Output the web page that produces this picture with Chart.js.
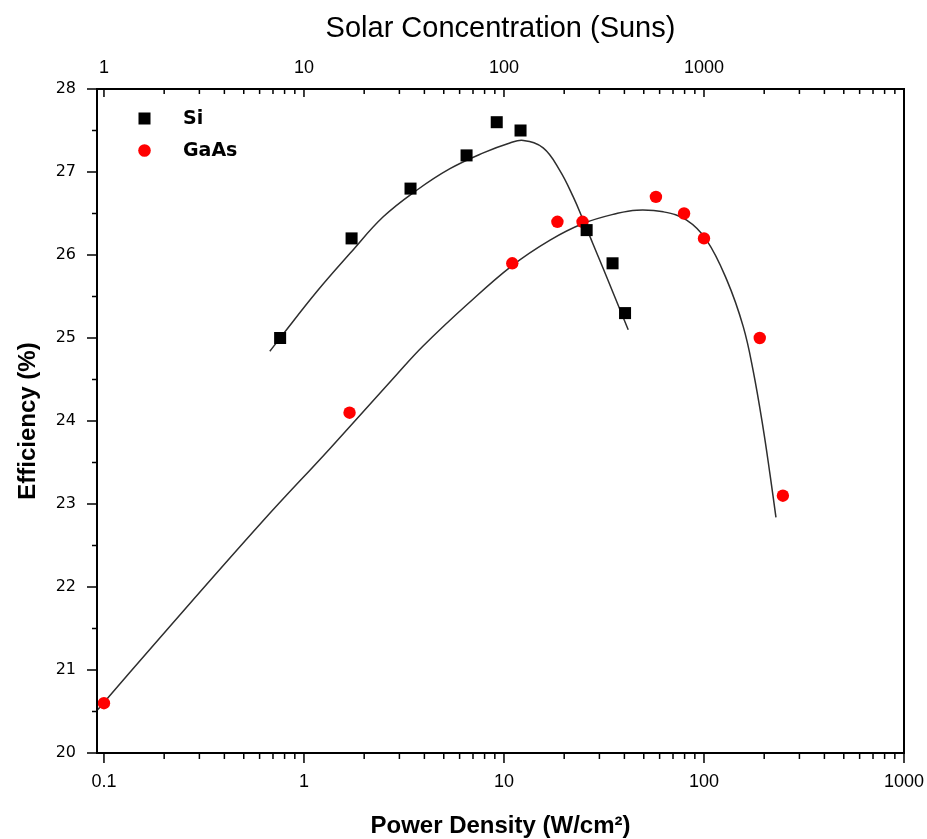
<!DOCTYPE html>
<html>
<head>
<meta charset="utf-8">
<title>Efficiency vs power density</title>
<script src="https://cdn.jsdelivr.net/npm/chart.js@4.4.1/dist/chart.umd.min.js"></script>
<style>
  html, body { margin: 0; padding: 0; background: #fff; }
  #wrap { width: 927px; height: 839px; }
</style>
</head>
<body>
<div id="wrap"><canvas id="chart" width="927" height="839"></canvas></div>
<script>
// measured cells (power density in W/cm2, efficiency in %)
var siPower = [0.76, 1.73, 3.41, 6.5, 9.2, 12.1, 25.9, 34.9, 40.3];
var siEff = [25.0, 26.2, 26.8, 27.2, 27.6, 27.5, 26.3, 25.9, 25.3];
var gaasPower = [0.1, 1.69, 11.0, 18.5, 24.7, 57.5, 79.5, 100, 190, 248];
var gaasEff = [20.6, 24.1, 25.9, 26.4, 26.4, 26.7, 26.5, 26.2, 25.0, 23.1];

// fitted curves
var siFitPower = [0.675, 0.76, 1.16, 1.70, 2.49, 3.66, 5.37, 7.88, 10.7, 12.5, 15.7, 19.0, 22.2, 24.9, 27.9, 31.3, 35.2, 41.8];
var siFitEff = [24.84, 25.00, 25.56, 26.02, 26.46, 26.78, 27.04, 27.23, 27.35, 27.38, 27.29, 27.02, 26.70, 26.42, 26.13, 25.84, 25.54, 25.10];
var gaasFitPower = [0.093, 0.194, 0.615, 1.35, 2.91, 3.93, 6.52, 10.95, 17.0, 24.9, 36.6, 46.1, 62.6, 81.9, 103, 130, 157, 176, 198, 214, 229];
var gaasFitEff = [20.52, 21.41, 22.78, 23.67, 24.56, 24.90, 25.40, 25.87, 26.18, 26.38, 26.50, 26.54, 26.52, 26.42, 26.18, 25.70, 25.14, 24.61, 23.90, 23.35, 22.84];

// axes
var powerTicks = [0.1, 1, 10, 100, 1000];
var sunTicks = [1, 10, 100, 1000];
var effTicks = [20, 21, 22, 23, 24, 25, 26, 27, 28];
var powerMin = 0.0923, powerMax = 1000;
var sunsPerWcm2 = 10;

function pairs(xs, ys) {
  return xs.map(function (x, i) { return { x: x, y: ys[i] }; });
}

function fixedTicks(values) {
  return function (scale) {
    scale.ticks = values.map(function (v) { return { value: v }; });
  };
}

// keep the end labels from shrinking the plot box
function noSidePadding(height) {
  return function (s) {
    s.height = height;
    s.paddingLeft = 0;
    s.paddingRight = 0;
  };
}

// decade + 2..9 positions inside a log scale
function logMarks(scale) {
  var out = [];
  var lo = Math.floor(Math.log10(scale.min)), hi = Math.ceil(Math.log10(scale.max));
  for (var e = lo; e <= hi; e++) {
    for (var m = 1; m <= 9; m++) {
      var v = m * Math.pow(10, e);
      if (v >= scale.min * 0.999 && v <= scale.max * 1.001) out.push({ v: v, major: m === 1 });
    }
  }
  return out;
}

var SANS = '"Liberation Sans", Arial, sans-serif';

// box frame, tick marks and the inset legend
var frameAndLegend = {
  id: 'frameAndLegend',
  afterDraw: function (chart) {
    var ctx = chart.ctx, a = chart.chartArea;
    var xs = chart.scales.x, xt = chart.scales.x2, ys = chart.scales.y;
    ctx.save();
    ctx.strokeStyle = '#000';
    ctx.lineWidth = 1.5;
    ctx.beginPath();
    for (var v = effTicks[0]; v <= effTicks[effTicks.length - 1]; v += 0.5) {
      var py = ys.getPixelForValue(v);
      var len = (v % 1 === 0) ? 10 : 5;
      ctx.moveTo(a.left - len, py);
      ctx.lineTo(a.left, py);
    }
    logMarks(xs).forEach(function (t) {
      var px = xs.getPixelForValue(t.v);
      ctx.moveTo(px, a.bottom);
      ctx.lineTo(px, a.bottom + (t.major ? 10 : 6));
    });
    logMarks(xt).forEach(function (t) {
      var px = xt.getPixelForValue(t.v);
      ctx.moveTo(px, a.top);
      ctx.lineTo(px, a.top + (t.major ? 8 : 5));
    });
    ctx.stroke();

    ctx.lineWidth = 2;
    ctx.strokeRect(a.left, a.top, a.right - a.left, a.bottom - a.top);

    // legend
    var items = chart.data.datasets.filter(function (d) { return d.inLegend; });
    var rowY = [a.top + 29.5, a.top + 61.5];
    ctx.font = 'bold 19px "DejaVu Sans", sans-serif';
    ctx.textBaseline = 'middle';
    ctx.textAlign = 'left';
    items.forEach(function (d, i) {
      var cx = a.left + 47.5, cy = rowY[i];
      ctx.fillStyle = d.backgroundColor;
      if (d.pointStyle === 'rect') {
        ctx.fillRect(cx - 6, cy - 6, 12, 12);
      } else {
        ctx.beginPath();
        ctx.arc(cx, cy, 6.3, 0, Math.PI * 2);
        ctx.fill();
      }
      ctx.fillStyle = '#000';
      ctx.fillText(d.label, a.left + 86, cy + 1);
    });
    ctx.restore();
  }
};

var ctx = document.getElementById('chart').getContext('2d');
new Chart(ctx, {
  type: 'scatter',
  data: {
    datasets: [
      {
        label: 'Si',
        inLegend: true,
        data: pairs(siPower, siEff),
        pointStyle: 'rect',
        pointRadius: 8.5,
        backgroundColor: '#000000',
        borderWidth: 0
      },
      {
        label: 'GaAs',
        inLegend: true,
        data: pairs(gaasPower, gaasEff),
        pointStyle: 'circle',
        pointRadius: 6.2,
        backgroundColor: '#ff0000',
        borderWidth: 0
      },
      {
        label: 'Si fit',
        data: pairs(siFitPower, siFitEff),
        showLine: true,
        pointRadius: 0,
        borderColor: '#2e2e2e',
        borderWidth: 1.5,
        tension: 0.4
      },
      {
        label: 'GaAs fit',
        data: pairs(gaasFitPower, gaasFitEff),
        showLine: true,
        pointRadius: 0,
        borderColor: '#2e2e2e',
        borderWidth: 1.5,
        tension: 0.4
      }
    ]
  },
  options: {
    responsive: false,
    animation: false,
    events: [],
    layout: { padding: { left: 0, right: 23, top: 0, bottom: 0 } },
    plugins: {
      legend: { display: false },
      tooltip: { enabled: false }
    },
    scales: {
      x: {
        type: 'logarithmic',
        position: 'bottom',
        min: powerMin,
        max: powerMax,
        afterBuildTicks: fixedTicks(powerTicks),
        afterFit: noSidePadding(86),
        grid: { display: false, drawTicks: false },
        border: { display: false },
        ticks: {
          color: '#000',
          padding: 18,
          maxRotation: 0,
          autoSkip: false,
          font: { family: SANS, size: 18 },
          callback: function (v) { return String(v); }
        },
        title: {
          display: true,
          text: 'Power Density (W/cm²)',
          color: '#000',
          font: { family: SANS, size: 24, weight: 'bold', lineHeight: 1 },
          padding: { top: 0, bottom: 1 }
        }
      },
      x2: {
        type: 'logarithmic',
        position: 'top',
        min: powerMin * sunsPerWcm2,
        max: powerMax * sunsPerWcm2,
        afterBuildTicks: fixedTicks(sunTicks),
        afterFit: noSidePadding(89),
        grid: { display: false, drawTicks: false },
        border: { display: false },
        ticks: {
          color: '#000',
          padding: 10,
          maxRotation: 0,
          autoSkip: false,
          font: { family: SANS, size: 18 },
          callback: function (v) { return String(v); }
        },
        title: {
          display: true,
          text: 'Solar Concentration (Suns)',
          color: '#000',
          font: { family: SANS, size: 29, lineHeight: 1 },
          padding: { top: 14, bottom: 0 }
        }
      },
      y: {
        type: 'linear',
        position: 'left',
        min: effTicks[0],
        max: effTicks[effTicks.length - 1],
        afterBuildTicks: fixedTicks(effTicks),
        afterFit: function (s) { s.width = 97; },
        grid: { display: false, drawTicks: false },
        border: { display: false },
        ticks: {
          color: '#000',
          padding: 21,
          font: { family: '"DejaVu Sans", sans-serif', size: 16 }
        },
        title: {
          display: true,
          text: 'Efficiency (%)',
          color: '#000',
          font: { family: SANS, size: 24, weight: 'bold', lineHeight: 1 },
          padding: { top: 16, bottom: 0 }
        }
      }
    }
  },
  plugins: [frameAndLegend]
});
</script>
</body>
</html>
